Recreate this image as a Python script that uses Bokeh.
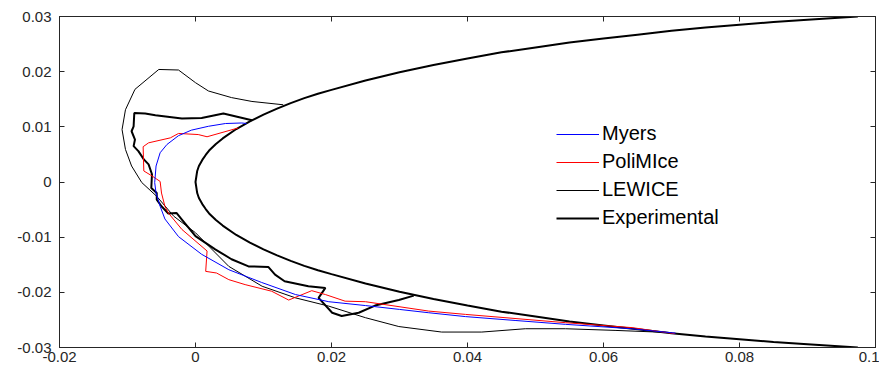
from bokeh.plotting import figure
from bokeh.models import LinearAxis, FixedTicker, Range1d, Legend, LegendItem
from bokeh.embed import file_html
from bokeh.resources import INLINE

# ---- axis ticks ----
x_ticks = [-0.02, 0.0, 0.02, 0.04, 0.06, 0.08, 0.1]
x_tick_labels = ["-0.02", "0", "0.02", "0.04", "0.06", "0.08", "0.1"]
y_ticks = [-0.03, -0.02, -0.01, 0.0, 0.01, 0.02, 0.03]
y_tick_labels = ["-0.03", "-0.02", "-0.01", "0", "0.01", "0.02", "0.03"]

# ---- clean airfoil (leading edge region) ----
airfoil_x = [0.0974, 0.09, 0.085, 0.08, 0.075, 0.07, 0.065, 0.06, 0.055, 0.05, 0.045, 0.04, 0.035,
             0.03, 0.025, 0.02, 0.018, 0.016, 0.014, 0.012, 0.01, 0.008, 0.006, 0.004, 0.003, 0.002,
             0.0015, 0.001, 0.0005, 0.00025, 0.0,
             0.00025, 0.0005, 0.001, 0.0015, 0.002, 0.003, 0.004, 0.006, 0.008, 0.01, 0.012, 0.014,
             0.016, 0.018, 0.02, 0.025, 0.03, 0.035, 0.04, 0.045, 0.05, 0.055, 0.06, 0.065, 0.07,
             0.075, 0.08, 0.085, 0.09, 0.0974]
airfoil_y = [0.0300, 0.0294, 0.0290, 0.0285, 0.0280, 0.0274, 0.0267, 0.0260, 0.0253, 0.0244, 0.0235,
             0.0224, 0.0212, 0.0199, 0.0184, 0.0167, 0.0160, 0.0152, 0.0143, 0.0133, 0.0122, 0.0110,
             0.0096, 0.0079, 0.0069, 0.0057, 0.0049, 0.0040, 0.0029, 0.0020, 0.0,
             -0.0020, -0.0029, -0.0040, -0.0049, -0.0057, -0.0069, -0.0079, -0.0096, -0.0110, -0.0122,
             -0.0133, -0.0143, -0.0152, -0.0160, -0.0167, -0.0184, -0.0199, -0.0212, -0.0224, -0.0235,
             -0.0244, -0.0253, -0.0260, -0.0267, -0.0274, -0.0280, -0.0285, -0.0290, -0.0294, -0.0300]

# ---- Myers ----
myers_x = [0.0075, 0.0068, 0.0044, 0.0019, -0.0006, -0.0025, -0.0042, -0.0052, -0.0058, -0.0060,
           -0.0058, -0.0052, -0.0045, -0.0025, 0.0009, 0.0049, 0.0097, 0.0147, 0.0196, 0.0250,
           0.0300, 0.0343, 0.0397, 0.0470, 0.0544, 0.0641, 0.0706]
myers_y = [0.0106, 0.0107, 0.0106, 0.0101, 0.0094, 0.0084, 0.0068, 0.0053, 0.0029, -0.0001,
           -0.0020, -0.0044, -0.0067, -0.0099, -0.0131, -0.0159, -0.0182, -0.0204, -0.0217, -0.0224,
           -0.0231, -0.0237, -0.0244, -0.0251, -0.0258, -0.0266, -0.0274]

# ---- PoliMIce ----
polimice_x = [0.0063, 0.0017, 0.0004, -0.0025, -0.0037, -0.0069, -0.0077, -0.0076, -0.0064, -0.0052,
              -0.0050, -0.0045, -0.0040, -0.0020, 0.0017, 0.0015, 0.0031, 0.0049, 0.0073, 0.0112,
              0.0137, 0.0171, 0.0191, 0.0220, 0.0250, 0.0343, 0.0397, 0.0544, 0.0642, 0.0705]
polimice_y = [0.0098, 0.0082, 0.0086, 0.0088, 0.0080, 0.0071, 0.0064, 0.0020, 0.0011, 0.0001,
              -0.0020, -0.0044, -0.0056, -0.0086, -0.0125, -0.0162, -0.0165, -0.0177, -0.0186, -0.0198,
              -0.0214, -0.0197, -0.0204, -0.0216, -0.0217, -0.0234, -0.0240, -0.0255, -0.0264, -0.0275]

# ---- LEWICE ----
lewice_x = [0.0129, 0.0083, 0.0053, 0.0019, 0.0000, -0.0025, -0.0054, -0.0089, -0.0103, -0.0108,
            -0.0103, -0.0094, -0.0079, -0.0057, -0.0032, 0.0000, 0.0049, 0.0098, 0.0147, 0.0196,
            0.0250, 0.0299, 0.0362, 0.0421, 0.0485, 0.0544, 0.0617, 0.0700]
lewice_y = [0.0140, 0.0146, 0.0153, 0.0165, 0.0180, 0.0203, 0.0204, 0.0168, 0.0131, 0.0095,
            0.0059, 0.0029, -0.0001, -0.0026, -0.0062, -0.0092, -0.0153, -0.0189, -0.0210, -0.0225,
            -0.0246, -0.0262, -0.0272, -0.0272, -0.0266, -0.0266, -0.0269, -0.0273]

# ---- Experimental ice shape ----
exp_x = [0.0083, 0.0041, 0.0009, -0.0020, -0.0059, -0.0074, -0.0090, -0.0091, -0.0094, -0.0089,
         -0.0091, -0.0084, -0.0076, -0.0069, -0.0064, -0.0065, -0.0057, -0.0057, -0.0050, -0.0040,
         -0.0028, -0.0020, 0.0000, 0.0029, 0.0053, 0.0078, 0.0107, 0.0117, 0.0131, 0.0166,
         0.0191, 0.0181, 0.0201, 0.0215, 0.0240, 0.0264, 0.0299, 0.0321]
exp_y = [0.0112, 0.0124, 0.0116, 0.0115, 0.0121, 0.0124, 0.0125, 0.0101, 0.0092, 0.0077,
         0.0065, 0.0056, 0.0041, 0.0032, 0.0014, -0.0011, -0.0020, -0.0032, -0.0044, -0.0057,
         -0.0056, -0.0068, -0.0098, -0.0122, -0.0140, -0.0153, -0.0154, -0.0168, -0.0180, -0.0189,
         -0.0192, -0.0210, -0.0237, -0.0243, -0.0237, -0.0224, -0.0214, -0.0206]

FONT = "Liberation Sans"
AX = "#262626"

p = figure(frame_width=816, frame_height=331, output_backend="svg", toolbar_location=None,
           x_range=Range1d(-0.02, 0.1), y_range=Range1d(-0.03, 0.03),
           min_border_left=59, min_border_right=4, min_border_top=16, min_border_bottom=14,
           background_fill_color="white", border_fill_color="white")
p.grid.visible = False
p.outline_line_color = AX
p.outline_line_width = 1

def style_axis(ax, ticks, labels, show_labels=True):
    ax.ticker = FixedTicker(ticks=ticks)
    if show_labels:
        ax.major_label_overrides = {t: l for t, l in zip(ticks, labels)}
    else:
        ax.major_label_overrides = {t: "" for t in ticks}
    ax.major_tick_in = 5
    ax.major_tick_out = 0
    ax.minor_tick_line_color = None
    ax.axis_line_color = AX
    ax.major_tick_line_color = AX
    ax.major_label_text_font = FONT
    ax.major_label_text_color = AX
    ax.major_label_text_font_size = "15px"
    ax.major_label_standoff = 4 if show_labels else 0

style_axis(p.xaxis[0], x_ticks, x_tick_labels)
style_axis(p.yaxis[0], y_ticks, y_tick_labels)
p.yaxis[0].major_label_standoff = 8

top = LinearAxis()
right = LinearAxis()
style_axis(top, x_ticks, x_tick_labels, show_labels=False)
style_axis(right, y_ticks, y_tick_labels, show_labels=False)
p.add_layout(top, "above")
p.add_layout(right, "right")

p.line(airfoil_x, airfoil_y, line_color="black", line_width=2)
r_lew = p.line(lewice_x, lewice_y, line_color="black", line_width=1)
r_exp = p.line(exp_x, exp_y, line_color="black", line_width=2)
r_pol = p.line(polimice_x, polimice_y, line_color="#ff0000", line_width=1)
r_my = p.line(myers_x, myers_y, line_color="#0000ff", line_width=1)

legend = Legend(items=[LegendItem(label="Myers", renderers=[r_my]),
                       LegendItem(label="PoliMIce", renderers=[r_pol]),
                       LegendItem(label="LEWICE", renderers=[r_lew]),
                       LegendItem(label="Experimental", renderers=[r_exp])],
                location=(497, 118), padding=0, margin=0, spacing=5,
                glyph_width=43, glyph_height=20, label_height=20, label_standoff=3,
                label_text_font=FONT, label_text_font_size="20px", label_text_color="black",
                border_line_color=None, background_fill_alpha=0)
p.add_layout(legend)

open("out.html", "w").write(file_html(p, INLINE))
